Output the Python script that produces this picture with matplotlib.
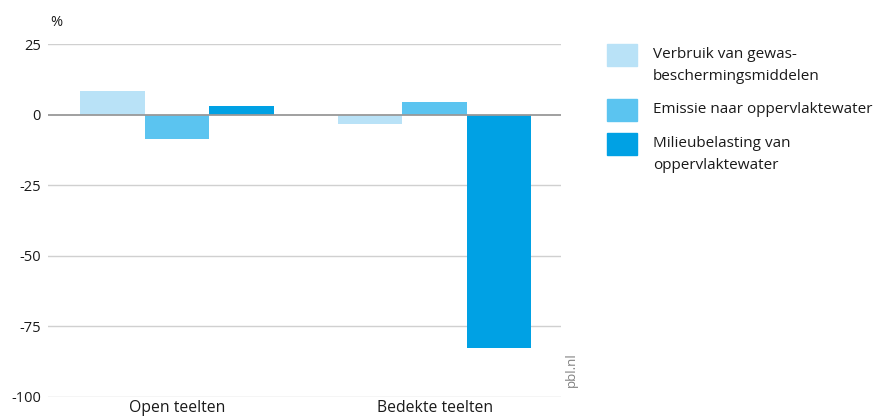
import numpy as np
import matplotlib.pyplot as plt
from matplotlib.patches import Rectangle

plt.rcParams['font.family'] = ['Open Sans', 'DejaVu Sans']

# data
categories = ['Open teelten', 'Bedekte teelten']
series_names = ['Verbruik van gewas-\nbeschermingsmiddelen',
                'Emissie naar oppervlaktewater',
                'Milieubelasting van\noppervlaktewater']
verbruik = [8.5, -3.4]
emissie = [-8.7, 4.6]
milieubelasting = [3.2, -82.6]
yticks = [25, 0, -25, -50, -75, -100]

colors = ['#b9e2f7', '#5bc4f0', '#00a1e4']
values = [verbruik, emissie, milieubelasting]

W, H = 890, 419
fig = plt.figure(figsize=(W / 100, H / 100), dpi=100)
ax = fig.add_axes([48 / W, 1 - 397 / H, 513 / W, 353 / H])

x = np.arange(len(categories))
w = 0.25
for i, (vals, c) in enumerate(zip(values, colors)):
    ax.bar(x + (i - 1) * w, vals, width=w, color=c, zorder=3)

ax.set_xlim(-0.5, 1.49)
ax.set_ylim(-100, 25)
ax.set_yticks(yticks)
ax.set_yticklabels([str(t) for t in yticks])
ax.set_xticks(x)
ax.set_xticklabels(categories, fontsize=11.3)
for t in yticks:
    if t == 0:
        continue
    ax.axhline(t, color='#d0d0d0', lw=1, zorder=1)
ax.axhline(0, color='#999999', lw=1.3, zorder=4)

for s in ax.spines.values():
    s.set_visible(False)
ax.tick_params(axis='y', length=0, labelsize=10.5, colors='#1a1a1a', pad=5)
ax.tick_params(axis='x', length=0, colors='#1a1a1a', pad=2)

fig.text(56 / W, 1 - 22 / H, '%', fontsize=10.5, color='#1a1a1a', ha='center', va='center')
fig.text(571 / W, 1 - 370 / H, 'pbl.nl', fontsize=9.5, color='#808080', rotation=90,
         ha='center', va='center')

# legend, drawn by hand so the patch lines up with the first text line
rows = [55, 110, 144]
for name, c, yc in zip(series_names, colors, rows):
    fig.patches.append(Rectangle((607 / W, 1 - (yc + 11) / H), 30 / W, 22 / H,
                                 color=c, transform=fig.transFigure, figure=fig))
    fig.text(653 / W, 1 - (yc - 8) / H, name, fontsize=11, color='#1a1a1a',
             ha='left', va='top', linespacing=1.6)

fig.savefig('out.png', dpi=100)
